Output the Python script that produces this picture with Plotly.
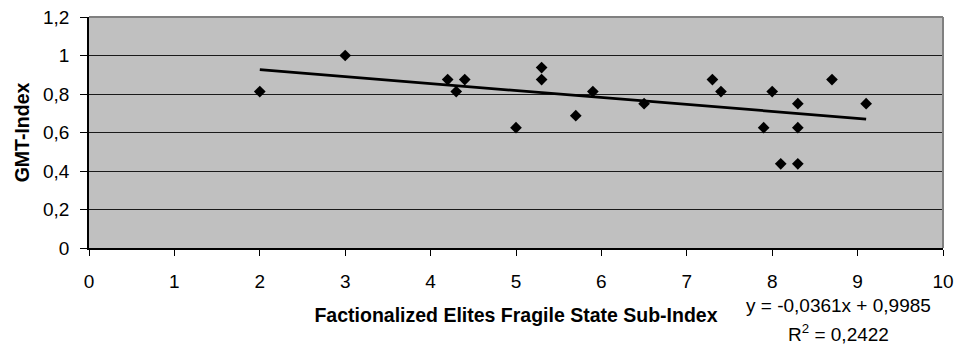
import plotly.graph_objects as go
import numpy as np

# Data
fragile_state_index = [2.0, 3.0, 4.2, 4.3, 4.4, 5.0, 5.3, 5.3, 5.7, 5.9, 6.5,
                       7.3, 7.4, 7.9, 8.0, 8.1, 8.3, 8.3, 8.3, 8.7, 9.1]
gmt_index = [0.8125, 1.0, 0.875, 0.8125, 0.875, 0.625, 0.9375, 0.875, 0.6875, 0.8125, 0.75,
             0.875, 0.8125, 0.625, 0.8125, 0.4375, 0.75, 0.625, 0.4375, 0.875, 0.75]

trend_slope = -0.0361
trend_intercept = 0.9985
equation_text = "y = -0,0361x + 0,9985"
r2_text = "R<sup>2</sup> = 0,2422"

x_ticks = [0, 1, 2, 3, 4, 5, 6, 7, 8, 9, 10]
y_ticks = [0, 0.2, 0.4, 0.6, 0.8, 1.0, 1.2]
y_tick_labels = ["0", "0,2", "0,4", "0,6", "0,8", "1", "1,2"]

FONT = "Liberation Sans, Arial, sans-serif"

tx = np.array([min(fragile_state_index), max(fragile_state_index)])
ty = trend_slope * tx + trend_intercept

fig = go.Figure()
fig.add_trace(go.Scatter(
    x=fragile_state_index, y=gmt_index, mode="markers",
    marker=dict(symbol="diamond", size=9, color="#000000"),
    showlegend=False, cliponaxis=False))
fig.add_trace(go.Scatter(
    x=tx, y=ty, mode="lines", line=dict(color="#000000", width=2.8),
    showlegend=False))

fig.update_layout(
    width=957, height=347,
    margin=dict(l=89, r=14, t=17, b=99, autoexpand=False),
    paper_bgcolor="white", plot_bgcolor="#C0C0C0",
    font=dict(family=FONT, size=19, color="#000000"),
    separators=", ",
    xaxis=dict(range=[0, 10], tickvals=x_ticks, ticktext=[str(v) for v in x_ticks],
               automargin=False,
               showgrid=False, zeroline=False, showline=True, linecolor="#000000", linewidth=1.5,
               ticks="outside", ticklen=6, tickcolor="#000000", tickwidth=1,
               ticklabelstandoff=9,
               title=dict(text="<b>Factionalized Elites Fragile State Sub-Index</b>",
                          font=dict(size=19.5), standoff=18)),
    yaxis=dict(range=[0, 1.2], tickvals=y_ticks, ticktext=y_tick_labels,
               automargin=False,
               showgrid=True, gridcolor="#1a1a1a", gridwidth=1,
               zeroline=False, showline=True, linecolor="#000000", linewidth=1.5,
               ticks="outside", ticklen=7, tickcolor="#000000", tickwidth=1,
               ticklabelstandoff=7,
               title=dict(text="<b>GMT-Index</b>", font=dict(size=19.5), standoff=8)),
    shapes=[
        dict(type="line", xref="paper", yref="paper", x0=0, x1=1, y0=1, y1=1,
             line=dict(color="#808080", width=2)),
        dict(type="line", xref="paper", yref="paper", x0=1, x1=1, y0=0, y1=1,
             line=dict(color="#808080", width=2)),
    ],
    annotations=[
        dict(text=equation_text, xref="paper", yref="paper", x=0.878, y=-0.247,
             showarrow=False, xanchor="center", yanchor="middle", font=dict(size=19)),
        dict(text=r2_text, xref="paper", yref="paper", x=0.878, y=-0.37,
             showarrow=False, xanchor="center", yanchor="middle", font=dict(size=19)),
    ],
)

fig.write_html("out.html")
